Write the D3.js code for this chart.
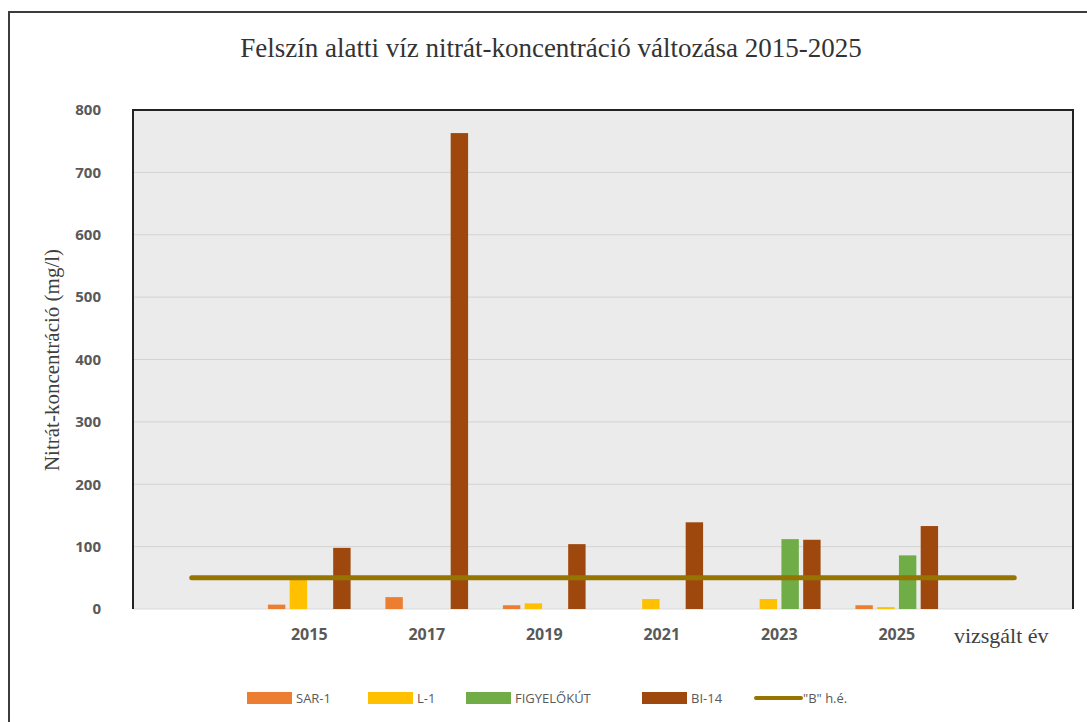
<!DOCTYPE html>
<html>
<head>
<meta charset="utf-8">
<script src="https://cdn.jsdelivr.net/npm/d3@7"></script>
<style>
  body { margin: 0; background: #fff; }
  svg { display: block; }
</style>
</head>
<body>
<svg width="1087" height="722"></svg>
<script>
// adatok
let categories = ["", "2015", "2017", "2019", "2021", "2023", "2025", "vizsgált év"];
let seriesNames = ["SAR-1", "L-1", "FIGYELŐKÚT", "BI-14"];
let seriesColors = ["#ED7D31", "#FFC000", "#70AD47", "#9E480E"];
let sar1 = [null, 7, 19, 6, null, null, 6, null];
let l1 = [null, 47, null, 9, 16, 16, 3, null];
let figyelokut = [null, null, null, null, null, 112, 86, null];
let bi14 = [null, 98, 763, 104, 139, 111, 133, null];
let limitB = [50, 50, 50, 50, 50, 50, 50, 50];
let limitName = "\"B\" h.é.";
let yTicks = [0, 100, 200, 300, 400, 500, 600, 700, 800];

let seriesValues = [sar1, l1, figyelokut, bi14];

let svg = d3.select("svg");

// keret
svg.append("path")
  .attr("d", "M9,722 L9,12 L1087,12")
  .attr("fill", "none")
  .attr("stroke", "#3c3c3c")
  .attr("stroke-width", 2);

let plotLeft = 133, plotRight = 1073, plotTop = 110, plotBottom = 609;

let x = d3.scaleBand().domain(categories).range([plotLeft, plotRight]);
let xInner = d3.scaleBand()
  .domain(seriesNames)
  .range([0, x.bandwidth()])
  .paddingInner(0.2)
  .paddingOuter(0.8);
let y = d3.scaleLinear().domain([0, 800]).range([plotBottom, plotTop]);

// háttér
svg.append("rect")
  .attr("x", plotLeft).attr("y", plotTop)
  .attr("width", plotRight - plotLeft).attr("height", plotBottom - plotTop)
  .attr("fill", "#ebebeb");

// rácsvonalak
svg.append("g")
  .selectAll("line")
  .data(yTicks)
  .enter()
  .append("line")
  .attr("x1", plotLeft).attr("x2", plotRight)
  .attr("y1", (d) => y(d)).attr("y2", (d) => y(d))
  .attr("stroke", (d) => (d === 0 ? "#d9d9d9" : "#d3d3d3"))
  .attr("stroke-width", 1);

// oszlopok
let rows = [];
categories.forEach((c, i) => {
  seriesNames.forEach((s, j) => {
    if (seriesValues[j][i] != null) rows.push({ cat: c, series: s, color: seriesColors[j], value: seriesValues[j][i] });
  });
});

svg.append("g")
  .selectAll("rect")
  .data(rows)
  .enter()
  .append("rect")
  .attr("x", (d) => x(d.cat) + xInner(d.series))
  .attr("width", xInner.bandwidth())
  .attr("y", (d) => y(d.value))
  .attr("height", (d) => y(0) - y(d.value))
  .attr("fill", (d) => d.color);

// határérték vonal
let line = d3.line()
  .x((d, i) => x(categories[i]) + x.bandwidth() / 2)
  .y((d) => y(d));

svg.append("path")
  .datum(limitB)
  .attr("d", line)
  .attr("fill", "none")
  .attr("stroke", "#967400")
  .attr("stroke-width", 5)
  .attr("stroke-linecap", "round");

// tengelyvonalak
svg.append("path")
  .attr("d", `M${plotLeft},${plotBottom} L${plotLeft},${plotTop} L${plotRight},${plotTop} L${plotRight},${plotBottom}`)
  .attr("fill", "none")
  .attr("stroke", "#222")
  .attr("stroke-width", 2);

// y tengely
let yAxis = d3.axisLeft(y).tickValues(yTicks).tickSize(0).tickPadding(0);
let yg = svg.append("g")
  .attr("transform", `translate(101,0)`)
  .call(yAxis);
yg.select(".domain").remove();
yg.selectAll("text")
  .attr("font-family", "Open Sans")
  .attr("font-size", 15)
  .attr("font-weight", 700)
  .attr("fill", "#595959");

// x tengely
let xAxis = d3.axisBottom(x).tickSize(0).tickPadding(0);
let xg = svg.append("g")
  .attr("transform", `translate(0,${plotBottom + 20})`)
  .call(xAxis);
xg.select(".domain").remove();
xg.selectAll("text")
  .attr("font-family", (d) => (d === "vizsgált év" ? "Liberation Serif" : "Open Sans"))
  .attr("font-size", (d) => (d === "vizsgált év" ? 22 : 16))
  .attr("font-weight", (d) => (d === "vizsgált év" ? 400 : 700))
  .attr("dx", (d) => (d === "vizsgált év" ? -13 : 0))
  .attr("dy", (d) => (d === "vizsgált év" ? "0.65em" : "0.71em"))
  .attr("fill", (d) => (d === "vizsgált év" ? "#404040" : "#595959"));

// cím
svg.append("text")
  .attr("x", 551).attr("y", 57)
  .attr("text-anchor", "middle")
  .attr("font-family", "Liberation Serif")
  .attr("font-size", 27)
  .attr("fill", "#333")
  .text("Felszín alatti víz nitrát-koncentráció változása 2015-2025");

svg.append("text")
  .attr("transform", "translate(59,360) rotate(-90)")
  .attr("text-anchor", "middle")
  .attr("font-family", "Liberation Serif")
  .attr("font-size", 21)
  .attr("fill", "#404040")
  .text("Nitrát-koncentráció (mg/l)");

// jelmagyarázat
let legendItems = [
  { name: "SAR-1", color: seriesColors[0], x: 247, type: "bar" },
  { name: "L-1", color: seriesColors[1], x: 368, type: "bar" },
  { name: "FIGYELŐKÚT", color: seriesColors[2], x: 466, type: "bar" },
  { name: "BI-14", color: seriesColors[3], x: 642, type: "bar" },
  { name: limitName, color: "#967400", x: 754, type: "line" },
];

let lg = svg.append("g")
  .selectAll("g")
  .data(legendItems)
  .enter()
  .append("g")
  .attr("transform", (d) => `translate(${d.x},698)`);

lg.filter((d) => d.type === "bar")
  .append("rect")
  .attr("x", 0).attr("y", -6)
  .attr("width", 45).attr("height", 12)
  .attr("fill", (d) => d.color);

lg.filter((d) => d.type === "line")
  .append("line")
  .attr("x1", 2).attr("x2", 47)
  .attr("y1", 0).attr("y2", 0)
  .attr("stroke", (d) => d.color)
  .attr("stroke-width", 4)
  .attr("stroke-linecap", "round");

lg.append("text")
  .attr("x", 49).attr("y", 5)
  .attr("font-family", "Open Sans")
  .attr("font-size", 13)
  .attr("fill", "#595959")
  .text((d) => d.name);
</script>
</body>
</html>
